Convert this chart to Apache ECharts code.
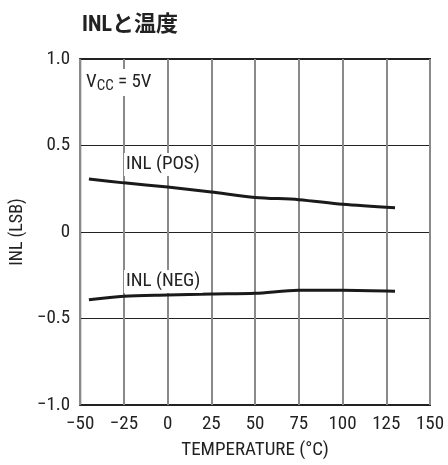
<!DOCTYPE html>
<html><head><meta charset="utf-8">
<script src="https://cdn.jsdelivr.net/npm/echarts@6/dist/echarts.min.js"></script>
<style>html,body{margin:0;padding:0;background:#fff}#c{width:448px;height:465px}</style>
</head><body><div id="c"></div>
<script>
var temps = [-45, -25, 0, 25, 50, 75, 100, 130];
var inlPos = [0.307, 0.284, 0.26, 0.231, 0.20, 0.187, 0.16, 0.14];
var inlNeg = [-0.392, -0.371, -0.364, -0.358, -0.354, -0.337, -0.337, -0.343];
var xTicks = [-50, -25, 0, 25, 50, 75, 100, 125, 150];
var yTicks = [-1, -0.5, 0, 0.5, 1];
var FONT = '"Roboto Condensed", "Liberation Sans", Arial, sans-serif';

function fmtNum(v, dec) {
  if (v === 0) return '0';
  var s = dec ? Math.abs(v).toFixed(1) : String(Math.abs(v));
  return (v < 0 ? '\u2212' : '') + s;
}
function pairs(xs, ys) { return xs.map(function (x, i) { return [x, ys[i]]; }); }

var chart = echarts.init(document.getElementById('c'), null, {renderer: 'canvas'});
chart.setOption({
  animation: false,
  title: {
    text: 'INLと温度', left: 77, top: 9,
    textStyle: {fontFamily: '"Roboto Condensed", "Noto Sans CJK JP", sans-serif', fontWeight: 'bold', fontSize: 22, color: '#222'}
  },
  grid: {left: 78, right: 18, top: 59, bottom: 55, show: true, borderColor: '#222', borderWidth: 2, backgroundColor: 'transparent'},
  xAxis: {
    type: 'value', min: -50, max: 150, interval: 25,
    name: 'TEMPERATURE (°C)', nameLocation: 'middle', nameGap: 36,
    nameTextStyle: {fontFamily: FONT, fontSize: 19, color: '#222'},
    axisLine: {show: false}, axisTick: {show: false},
    axisLabel: {fontFamily: FONT, fontSize: 19, color: '#222', margin: 10,
      formatter: function (v) { return xTicks.indexOf(v) >= 0 ? fmtNum(v, false) : ''; }},
    splitLine: {show: true, lineStyle: {color: '#8a8a8a', width: 2}}
  },
  yAxis: {
    type: 'value', min: -1, max: 1, interval: 0.5,
    name: 'INL (LSB)', nameLocation: 'middle', nameGap: 53,
    nameTextStyle: {fontFamily: FONT, fontSize: 18, color: '#222'},
    axisLine: {show: false}, axisTick: {show: false},
    axisLabel: {fontFamily: FONT, fontSize: 19, color: '#222', margin: 10,
      formatter: function (v) { return yTicks.indexOf(v) >= 0 ? fmtNum(v, true) : ''; }},
    splitLine: {show: true, lineStyle: {color: '#222', width: 1}}
  },
  series: [
    {type: 'line', data: pairs(temps, inlPos), smooth: 0.3, symbol: 'none', lineStyle: {color: '#1a1a1a', width: 3}, z: 5},
    {type: 'line', data: pairs(temps, inlNeg), smooth: 0.3, symbol: 'none', lineStyle: {color: '#1a1a1a', width: 3}, z: 5}
  ],
  graphic: [
    {type: 'text', left: 84, top: 69, z: 10, style: {
      text: '{a|V}{b|CC}{a| = 5V}',
      rich: {a: {fontFamily: FONT, fontSize: 19, fill: '#222'}, b: {fontFamily: FONT, fontSize: 15, fill: '#222', verticalAlign: 'bottom', padding: [8, 0, 0, 0]}},
      backgroundColor: '#fff', padding: [2, 2, 2, 2]}},
    {type: 'text', left: 124, top: 153, z: 10, style: {text: 'INL (POS)', fontFamily: FONT, fontSize: 19, fill: '#222', backgroundColor: '#fff', padding: [2, 2, 2, 2]}},
    {type: 'text', left: 124, top: 270, z: 10, style: {text: 'INL (NEG)', fontFamily: FONT, fontSize: 19, fill: '#222', backgroundColor: '#fff', padding: [2, 2, 2, 2]}}
  ]
});
</script></body></html>
